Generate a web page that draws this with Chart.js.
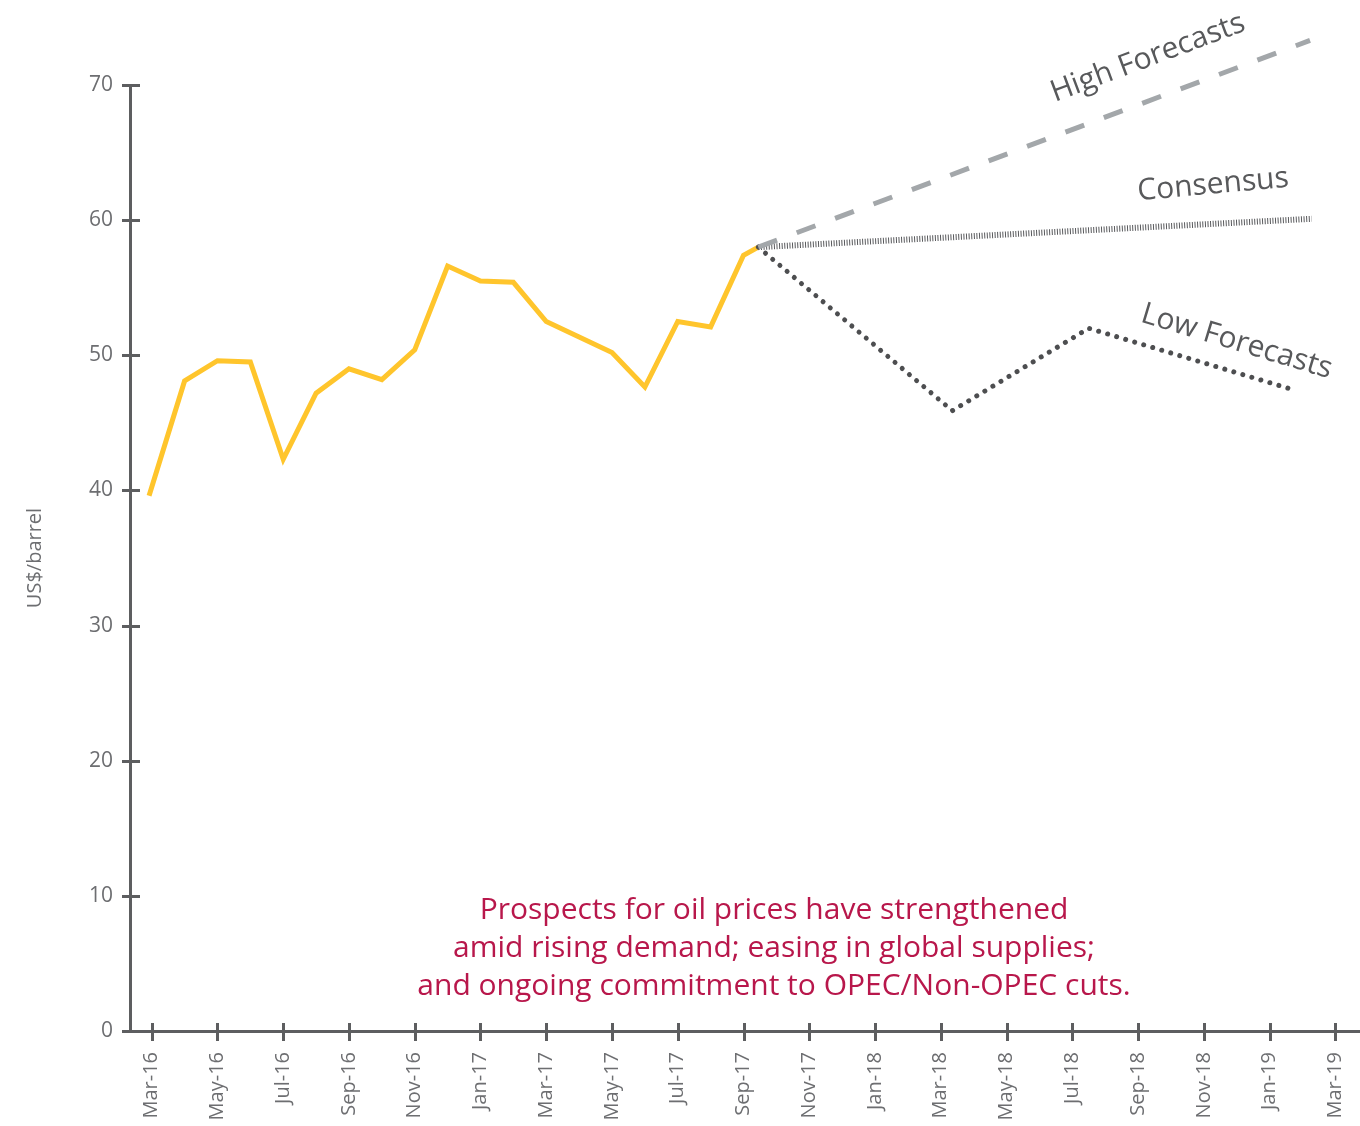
<!DOCTYPE html>
<html>
<head>
<meta charset="utf-8">
<title>Oil price outlook</title>
<script src="https://cdn.jsdelivr.net/npm/chart.js@4.4.1/dist/chart.umd.min.js"></script>
<style>
  html, body { margin: 0; padding: 0; background: #fff; }
  #priceChart { display: block; }
</style>
</head>
<body>
<canvas id="priceChart" width="1360" height="1126"></canvas>
<script>
// x values are months counted from Mar-16 (0 = Mar-16)
var tickLabels = ['Mar-16', 'May-16', 'Jul-16', 'Sep-16', 'Nov-16', 'Jan-17', 'Mar-17', 'May-17', 'Jul-17', 'Sep-17',
	'Nov-17', 'Jan-18', 'Mar-18', 'May-18', 'Jul-18', 'Sep-18', 'Nov-18', 'Jan-19', 'Mar-19'];

var priceMonths = [-0.08, 1, 2, 3, 4, 5, 6, 7, 8, 9, 10, 11, 12, 13, 14, 15, 16, 17, 18, 18.45];
var priceValues = [39.6, 48.1, 49.6, 49.5, 42.3, 47.2, 49.0, 48.2, 50.4, 56.6, 55.5, 55.4, 52.5, 51.35, 50.2, 47.65, 52.5, 52.1, 57.4, 58.0];

var highMonths = [18.45, 35.23];
var highValues = [58.0, 73.3];

var consensusMonths = [18.45, 35.28];
var consensusValues = [58.0, 60.1];

var lowMonths = [18.45, 24.35, 28.5, 34.65];
var lowValues = [58.0, 45.9, 52.0, 47.5];

var noteLines = [
	'Prospects for oil prices have strengthened',
	'amid rising demand; easing in global supplies;',
	'and ongoing commitment to OPEC/Non-OPEC cuts.'
];

var axisColor = '#5d5e60';
var tickTextColor = '#6d6e71';
var labelColor = '#58595b';
var fontFamily = "'Open Sans', 'Noto Sans', sans-serif";

function toPoints(xs, ys) {
	return xs.map(function (x, i) {
		return { x: x, y: ys[i] };
	});
}

// ticks crossing both axes + the line names and the note
const overlayPlugin = {
	id: 'overlayPlugin',
	afterDraw(chart) {
		const { ctx, chartArea: { left, bottom }, scales: { x, y } } = chart;
		ctx.save();
		ctx.strokeStyle = axisColor;
		ctx.lineWidth = 3;
		y.ticks.forEach(function (t) {
			var py = Math.round(y.getPixelForValue(t.value)) + 0.5;
			ctx.beginPath();
			ctx.moveTo(left - 8, py);
			ctx.lineTo(left + 10, py);
			ctx.stroke();
		});
		x.ticks.forEach(function (t) {
			var px = Math.round(x.getPixelForValue(t.value)) + 0.5;
			ctx.beginPath();
			ctx.moveTo(px, bottom - 8);
			ctx.lineTo(px, bottom + 10);
			ctx.stroke();
		});

		function slope(xs, ys, a, b) {
			var dx = x.getPixelForValue(xs[b]) - x.getPixelForValue(xs[a]);
			var dy = y.getPixelForValue(ys[b]) - y.getPixelForValue(ys[a]);
			return Math.atan2(dy, dx);
		}
		function label(text, mx, v, angle) {
			ctx.save();
			ctx.translate(x.getPixelForValue(mx), y.getPixelForValue(v));
			ctx.rotate(angle);
			ctx.fillText(text, 0, 0);
			ctx.restore();
		}
		ctx.fillStyle = labelColor;
		ctx.font = '30px ' + fontFamily;
		ctx.textAlign = 'center';
		ctx.textBaseline = 'middle';
		label('High Forecasts', 30.3, 72.0, slope(highMonths, highValues, 0, 1));
		label('Consensus', 32.28, 62.6, -0.09);
		label('Low Forecasts', 33.0, 51.0, slope(lowMonths, lowValues, 2, 3));

		ctx.fillStyle = '#b8174b';
		ctx.font = '30px ' + fontFamily;
		ctx.textBaseline = 'alphabetic';
		noteLines.forEach(function (line, i) {
			ctx.fillText(line, 774, 919 + i * 38);
		});
		ctx.restore();
	}
};

var chartDataset = {
	datasets: [{
		label: 'Price',
		data: toPoints(priceMonths, priceValues),
		borderColor: '#ffc52c',
		borderWidth: 5,
		borderJoinStyle: 'miter',
		order: 4
	}, {
		label: 'High Forecasts',
		data: toPoints(highMonths, highValues),
		borderColor: '#a3a7aa',
		borderWidth: 5,
		borderDash: [20, 21],
		order: 1
	}, {
		label: 'Consensus',
		data: toPoints(consensusMonths, consensusValues),
		borderColor: '#58595c',
		borderWidth: 6,
		borderDash: [1, 1.6],
		order: 2
	}, {
		label: 'Low Forecasts',
		data: toPoints(lowMonths, lowValues),
		borderColor: '#4d4e50',
		borderWidth: 5,
		borderDash: [0.01, 9.4],
		borderCapStyle: 'round',
		order: 3
	}]
};

var chartOption = {
	responsive: false,
	animation: false,
	clip: false,
	elements: {
		point: { radius: 0 },
		line: { tension: 0, fill: false }
	},
	layout: {
		padding: { top: 85, left: 0, right: 0, bottom: 0 }
	},
	plugins: {
		legend: { display: false },
		tooltip: { enabled: false }
	},
	scales: {
		x: {
			type: 'linear',
			min: -0.66,
			max: 36.75,
			afterBuildTicks: function (scale) {
				scale.ticks = tickLabels.map(function (t, i) {
					return { value: i * 2 };
				});
			},
			afterFit: function (scale) {
				scale.height = 95;
				scale.paddingLeft = 0;
				scale.paddingRight = 0;
			},
			grid: { display: false, drawTicks: false },
			border: { color: axisColor, width: 3 },
			ticks: {
				autoSkip: false,
				maxRotation: 90,
				minRotation: 90,
				padding: 21,
				color: tickTextColor,
				font: { family: fontFamily, size: 20 },
				callback: function (value, index) {
					return tickLabels[index];
				}
			}
		},
		y: {
			min: 0,
			max: 70,
			afterFit: function (scale) {
				scale.width = 130;
				scale.paddingTop = 0;
				scale.paddingBottom = 0;
			},
			grid: { display: false, drawTicks: false },
			border: { color: axisColor, width: 3 },
			ticks: {
				stepSize: 10,
				padding: 17,
				color: tickTextColor,
				font: { family: fontFamily, size: 21 }
			},
			title: {
				display: true,
				text: 'US$/barrel',
				color: tickTextColor,
				font: { family: fontFamily, size: 20 },
				padding: { top: 23, bottom: 0 }
			}
		}
	}
};

var myChart = new Chart(document.getElementById('priceChart'), {
	type: 'line',
	data: chartDataset,
	options: chartOption,
	plugins: [overlayPlugin]
});
</script>
</body>
</html>
